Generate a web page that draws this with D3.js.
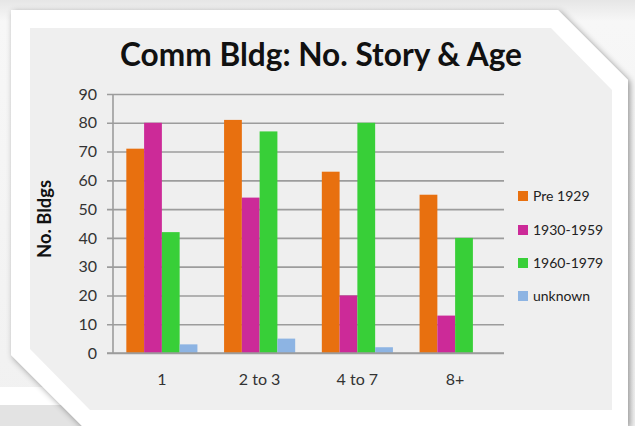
<!DOCTYPE html>
<html>
<head>
<meta charset="utf-8">
<script src="https://cdn.jsdelivr.net/npm/d3@7/dist/d3.min.js"></script>
<style>
  html, body { margin: 0; padding: 0; background: #f3f3f3; }
  svg { display: block; }
  text { font-family: Lato, "Open Sans", "DejaVu Sans", sans-serif; }
</style>
</head>
<body>
<svg id="chart" width="635" height="426"></svg>
<script>
// Commercial buildings by number of stories and construction era
const categories = ["1", "2 to 3", "4 to 7", "8+"];
const seriesNames = ["Pre 1929", "1930-1959", "1960-1979", "unknown"];
const pre1929 = [71, 81, 63, 55];
const era1930 = [80, 54, 20, 13];
const era1960 = [42, 77, 80, 40];
const unknown = [3, 5, 2, 0];
const yTicks = [0, 10, 20, 30, 40, 50, 60, 70, 80, 90];
const colors = ["#E8700F", "#CC2A98", "#38CF38", "#8DB4E3"];

const seriesValues = [pre1929, era1930, era1960, unknown];
const rows = categories.map((c, i) => ({
  category: c,
  values: seriesNames.map((s, j) => ({ series: s, value: seriesValues[j][i] }))
}));

const svg = d3.select("#chart");
const W = 635, H = 426;

const defs = svg.append("defs");
const shadow = defs.append("filter").attr("id", "cardShadow")
  .attr("x", "-10%").attr("y", "-10%").attr("width", "120%").attr("height", "120%");
shadow.append("feDropShadow").attr("dx", 2).attr("dy", 2)
  .attr("stdDeviation", 3).attr("flood-color", "#000").attr("flood-opacity", 0.4);

const bgGrad = defs.append("linearGradient").attr("id", "bgGrad")
  .attr("x1", 0).attr("y1", 0).attr("x2", 0).attr("y2", 1);
bgGrad.append("stop").attr("offset", "0%").attr("stop-color", "#e6e6e6");
bgGrad.append("stop").attr("offset", "5%").attr("stop-color", "#f7f7f7");
bgGrad.append("stop").attr("offset", "100%").attr("stop-color", "#f1f1f1");

// page background with a sheet peeking out below-left
svg.append("rect").attr("width", W).attr("height", H).attr("fill", "url(#bgGrad)");
svg.append("rect").attr("x", 0).attr("y", 387).attr("width", 120).attr("height", 18).attr("fill", "#ffffff");
svg.append("rect").attr("x", 0).attr("y", 405).attr("width", 120).attr("height", 21).attr("fill", "#e3e3e3");

// white card with clipped corners
const card = [[11, 10], [558, 10], [628, 80], [628, 426], [82, 426], [11, 355]];
svg.append("path").attr("d", d3.line()(card) + "Z")
  .attr("fill", "#ffffff").attr("filter", "url(#cardShadow)");

// inner grey chart panel
const panel = [[30, 28], [551, 28], [612, 90], [612, 410], [90, 410], [30, 349]];
svg.append("path").attr("d", d3.line()(panel) + "Z").attr("fill", "#efefef");

// plot geometry
const plot = { left: 113, right: 504, top: 94, bottom: 353 };

const y = d3.scaleLinear().domain([0, 90]).range([plot.bottom, plot.top]);
const x0 = d3.scaleBand().domain(categories)
  .range([plot.left, plot.right])
  .paddingInner(0.2727).paddingOuter(0.13636);
const x1 = d3.scaleBand().domain(seriesNames).range([0, x0.bandwidth()]).padding(0);
const color = d3.scaleOrdinal().domain(seriesNames).range(colors);

// gridlines and y ticks
const yAxis = d3.axisLeft(y).tickValues(yTicks)
  .tickSize(-(plot.right - plot.left)).tickPadding(9).tickFormat(d3.format("d"));
const gy = svg.append("g").attr("transform", `translate(${plot.left},0)`)
  .call(yAxis);
gy.select(".domain").remove();
gy.selectAll(".tick line")
  .attr("x1", -6).attr("x2", plot.right - plot.left)
  .attr("stroke", "#9c9c9c").attr("stroke-width", 1.6);
gy.selectAll(".tick text")
  .attr("x", -16)
  .attr("fill", "#333").attr("font-size", 16);

// vertical axis line
svg.append("line").attr("x1", plot.left).attr("x2", plot.left)
  .attr("y1", plot.top).attr("y2", plot.bottom)
  .attr("stroke", "#9c9c9c").attr("stroke-width", 1.6);

// bars
const groups = svg.append("g").selectAll("g").data(rows).join("g")
  .attr("transform", d => `translate(${x0(d.category)},0)`);
groups.selectAll("rect").data(d => d.values).join("rect")
  .attr("x", d => x1(d.series))
  .attr("width", x1.bandwidth())
  .attr("y", d => y(d.value))
  .attr("height", d => y(0) - y(d.value))
  .attr("fill", d => color(d.series));

// baseline redrawn over bars
svg.append("line").attr("x1", plot.left - 6).attr("x2", plot.right)
  .attr("y1", y(0)).attr("y2", y(0))
  .attr("stroke", "#9c9c9c").attr("stroke-width", 1.6);

// category labels
const xAxis = d3.axisBottom(x0).tickSize(0).tickPadding(21);
const gx = svg.append("g").attr("transform", `translate(0,${plot.bottom})`).call(xAxis);
gx.select(".domain").remove();
gx.selectAll(".tick text").attr("fill", "#333").attr("font-size", 16)
  .attr("font-family", "Lato, 'Open Sans', sans-serif");

// title
const title = svg.append("text").attr("x", 321).attr("y", 66)
  .attr("text-anchor", "middle").attr("font-weight", "bold")
  .attr("font-size", 28).attr("fill", "#111")
  .text("Comm Bldg: No. Story & Age");
const tw = title.node().getComputedTextLength();
title.attr("font-size", 28 * 402 / tw);

// y-axis title
const yTitle = svg.append("text")
  .attr("transform", "translate(51,219) rotate(-90)")
  .attr("text-anchor", "middle").attr("font-weight", "bold")
  .attr("font-size", 18).attr("fill", "#111")
  .text("No. Bldgs");
const yw = yTitle.node().getComputedTextLength();
yTitle.attr("font-size", 18 * 78 / yw);

// legend
const legendY = [196, 230, 263, 296];
const legend = svg.append("g").selectAll("g").data(seriesNames).join("g")
  .attr("transform", (d, i) => `translate(518,${legendY[i]})`);
legend.append("rect").attr("x", 0).attr("y", -5).attr("width", 10).attr("height", 10)
  .attr("fill", d => color(d));
legend.append("text").attr("x", 15).attr("y", 0).attr("dy", "0.35em")
  .attr("font-size", 14).attr("fill", "#222").text(d => d);
</script>
</body>
</html>
